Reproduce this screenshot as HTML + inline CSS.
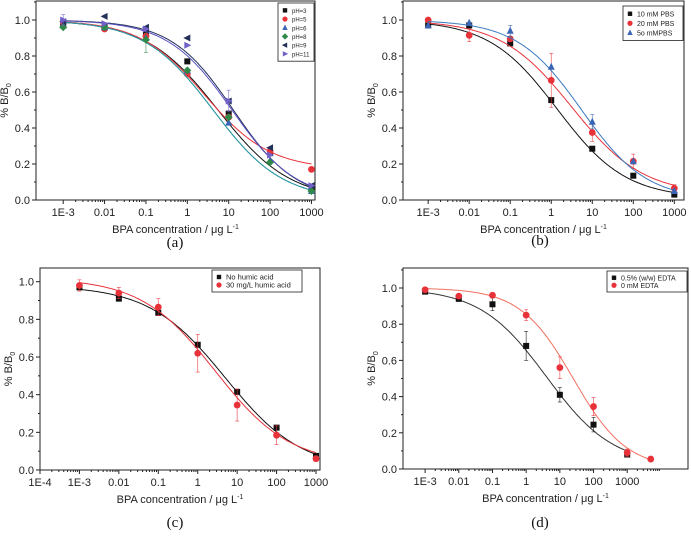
<!DOCTYPE html>
<html><head><meta charset="utf-8">
<style>
body{margin:0;background:#fff;}
svg{display:block;font-family:"Liberation Sans",Arial,sans-serif;}
</style></head>
<body>
<svg id="fig" width="691" height="538" viewBox="0 0 691 538" xmlns="http://www.w3.org/2000/svg"></svg>
<script>
// ---- data ----
const concA = [0.001, 0.01, 0.1, 1, 10, 100, 1000];
const aPH3  = [0.97, 0.96, 0.93, 0.77, 0.48, 0.26, 0.07];
const aPH5  = [0.99, 0.95, 0.91, 0.70, 0.46, 0.27, 0.17];
const aPH6  = [0.97, 0.96, 0.90, 0.72, 0.43, 0.22, 0.05];
const aPH8  = [0.96, 0.96, 0.89, 0.72, 0.46, 0.21, 0.05];
const aPH9  = [0.99, 1.02, 0.96, 0.90, 0.55, 0.29, 0.08];
const aPH11 = [1.00, 0.98, 0.95, 0.86, 0.55, 0.25, 0.08];
const aNames = ["pH=3","pH=5","pH=6","pH=8","pH=9","pH=11"];
// fit params: [top, bottom, ic50, hill]
const aFits = [[1.0,0.0,5.5,0.50],[1.0,0.17,2.6,0.55],[1.0,0.0,4.2,0.52],[1.0,0.0,4.2,0.52],[1.0,0.0,13,0.58],[1.0,0.0,12,0.56]];

const concB = [0.001, 0.01, 0.1, 1, 10, 100, 1000];
const b10 = [0.97, 0.97, 0.87, 0.555, 0.285, 0.135, 0.03];
const b20 = [1.00, 0.915, 0.895, 0.665, 0.375, 0.215, 0.065];
const b50 = [0.97, 0.985, 0.94, 0.74, 0.435, 0.215, 0.05];
const bNames = ["10 mM PBS","20 mM PBS","5o  mMPBS"];
const bFits = [[1.0,0.01,1.4,0.52],[1.0,0.03,3.2,0.5],[1.0,0.0,5.5,0.55]];

const concC = [0.001, 0.01, 0.1, 1, 10, 100, 1000];
const cNo = [0.97, 0.91, 0.835, 0.665, 0.415, 0.225, 0.075];
const cHumic = [0.98, 0.94, 0.865, 0.62, 0.345, 0.185, 0.06];
const cNames = ["No humic acid","30 mg/L humic acid"];
const cFits = [[0.98,0.0,5.0,0.45],[1.02,0.03,2.8,0.46]];

const concD = [0.001, 0.01, 0.1, 1, 10, 100, 1000, 5000];
const dEDTA = [0.98, 0.94, 0.91, 0.68, 0.41, 0.245, 0.08, null];
const dNone = [0.99, 0.955, 0.96, 0.85, 0.56, 0.345, 0.09, 0.055];
const dNames = ["0.5% (w/w) EDTA","0 mM EDTA"];
const dFits = [[1.0,0.02,4.0,0.44],[1.0,0.0,25,0.55]];

const yTicks = [0.0,0.2,0.4,0.6,0.8,1.0];
const yTickLabels = ["0.0","0.2","0.4","0.6","0.8","1.0"];

// ---- renderer ----
const NS="http://www.w3.org/2000/svg";
const svg=document.getElementById('fig');
function mk(tag,attrs,parent){const e=document.createElementNS(NS,tag);for(const k in attrs)e.setAttribute(k,attrs[k]);(parent||svg).appendChild(e);return e;}

function panel(p){
  const g=mk('g',{});
  
  
  const lx=Math.log10(p.xmin), hx=Math.log10(p.xmax);
  const X=v=>p.x0+(Math.log10(v)-lx)/(hx-lx)*(p.x1-p.x0);
  const Y=v=>p.yb+(v-0)*(p.y1v-p.yb)/1.0;
  const box=mk('rect',{x:p.L,y:p.T,width:p.R-p.L,height:p.B-p.T,fill:'none',stroke:'#222','stroke-width':1},g);
  
  
  yTicks.forEach((t,i)=>{
    const y=Y(t);
    mk('line',{x1:p.L-4,x2:p.L,y1:y,y2:y,stroke:'#222'},g);
    const tx=mk('text',{x:p.L-6,y:y+4,'text-anchor':'end','font-size':11,fill:'#222'},g);
    tx.textContent=yTickLabels[i];
    
    
    const ym=Y(t+0.1);
    if(ym>p.T) mk('line',{x1:p.L-2,x2:p.L,y1:ym,y2:ym,stroke:'#222'},g);
  });
  for(let d=Math.ceil(lx);d<=Math.floor(hx);d++){
    const v=Math.pow(10,d);const x=X(v);
    mk('line',{x1:x,x2:x,y1:p.B,y2:p.B+4,stroke:'#222'},g);
    const tx=mk('text',{x:x,y:p.B+16,'text-anchor':'middle','font-size':11,fill:'#222'},g);
    tx.textContent= d<0 ? (d===-1?'0.1':d===-2?'0.01':'1E'+d) : String(v);
    
    
    for(let m=2;m<10;m++){const xm=X(m*v);if(xm<p.R) mk('line',{x1:xm,x2:xm,y1:p.B,y2:p.B+2,stroke:'#222'},g);}
  }
  const xt=mk('text',{x:(p.L+p.R)/2,y:p.B+33,'text-anchor':'middle','font-size':11,fill:'#222'},g);
  xt.innerHTML='BPA concentration / μg L<tspan dy="-4" font-size="7">-1</tspan>';
  
  
  const ytx=p.L-28, yty=(p.T+p.B)/2;
  const yt=mk('text',{x:ytx,y:yty,'text-anchor':'middle','font-size':11,fill:'#222',transform:`rotate(-90 ${ytx} ${yty})`},g);
  yt.innerHTML='% B/B<tspan dy="3" font-size="7">0</tspan>';
  
  
  const cap=mk('text',{x:p.capX,y:p.capY,'text-anchor':'middle','font-size':15,'font-family':'Liberation Serif, serif',fill:'#111'},g);
  cap.textContent=p.caption;
  
  
  p.series.forEach((s,si)=>{
    const f=s.fit;let d='';
    const ls=Math.log10(0.001), le=Math.log10(s.xend||1000);
    for(let i=0;i<=200;i++){
      const lv=ls+(le-ls)*i/200;
      const v=Math.pow(10,lv);
      const yv=f[1]+(f[0]-f[1])/(1+Math.pow(v/f[2],f[3]));
      d+=(i?'L':'M')+X(v).toFixed(1)+','+Y(yv).toFixed(1);
    }
    const c=mk('path',{d:d,fill:'none',stroke:s.line,'stroke-width':1},g);
    
    
    s.vals.forEach((v,i)=>{
      if(v===null)return;
      const x=X(s.conc[i]),y=Y(v);
      if(s.err&&s.err[i]){
        const e=s.err[i]*(p.yb-p.y1v);
        mk('line',{x1:x,x2:x,y1:y-e,y2:y+e,stroke:s.color,'stroke-width':0.7,opacity:0.8},g);
        mk('line',{x1:x-2,x2:x+2,y1:y-e,y2:y-e,stroke:s.color,'stroke-width':0.7,opacity:0.8},g);
        mk('line',{x1:x-2,x2:x+2,y1:y+e,y2:y+e,stroke:s.color,'stroke-width':0.7,opacity:0.8},g);
      }
      const m=marker(s.shape,x,y,s.color,g,3);
      
      
    });
  });
  const lg=mk('g',{},g);
  
  
  const lh=p.series.length*p.legRow+6;
  mk('rect',{x:p.legX,y:p.legY,width:p.legW,height:lh,fill:'#fff',stroke:'#222','stroke-width':0.8},lg);
  p.series.forEach((s,si)=>{
    const yy=p.legY+3+p.legRow*si+p.legRow/2;
    marker(s.shape,p.legX+7,yy,s.color,lg,2.2);
    const t=mk('text',{x:p.legX+14,y:yy+2.5,'font-size':p.legFont,fill:'#222'},lg);
    t.textContent=s.label;
    
    
  });
}
function marker(shape,x,y,c,g,r){
  if(shape==='sq') return mk('rect',{x:x-r,y:y-r,width:2*r,height:2*r,fill:c},g);
  if(shape==='ci') return mk('circle',{cx:x,cy:y,r:r+0.4,fill:c},g);
  if(shape==='tu') return mk('polygon',{points:`${x},${y-r-1} ${x-r-0.5},${y+r} ${x+r+0.5},${y+r}`,fill:c},g);
  if(shape==='di') return mk('polygon',{points:`${x},${y-r-1} ${x+r+1},${y} ${x},${y+r+1} ${x-r-1},${y}`,fill:c},g);
  if(shape==='tl') return mk('polygon',{points:`${x-r-1},${y} ${x+r},${y-r-0.5} ${x+r},${y+r+0.5}`,fill:c},g);
  if(shape==='tr') return mk('polygon',{points:`${x+r+1},${y} ${x-r},${y-r-0.5} ${x-r},${y+r+0.5}`,fill:c},g);
}

const cols={k:'#111',r:'#e8323a',b:'#3a64b4',g:'#2f8a4a',n:'#22305a',p:'#7060c8'};
panel({name:'panel-a',caption:'(a)',capX:175,capY:247,L:36,R:315,T:1,B:200,xmin:0.00048,xmax:1090,x0:50,x1:313,yb:200,y1v:20,
  legX:278,legY:3,legW:36,legRow:8.7,legFont:6,
  series:[
   {label:aNames[0],shape:'sq',color:cols.k,line:'#111',conc:concA,vals:aPH3,fit:aFits[0]},
   {label:aNames[1],shape:'ci',color:cols.r,line:'#e8323a',conc:concA,vals:aPH5,fit:aFits[1]},
   {label:aNames[2],shape:'tu',color:cols.b,line:'#3a64b4',conc:concA,vals:aPH6,fit:aFits[2]},
   {label:aNames[3],shape:'di',color:cols.g,line:'#2aa0a0',conc:concA,vals:aPH8,fit:aFits[3],err:[0,0,0.07,0,0,0,0]},
   {label:aNames[4],shape:'tl',color:cols.n,line:'#22305a',conc:concA,vals:aPH9,fit:aFits[4]},
   {label:aNames[5],shape:'tr',color:cols.p,line:'#5a50c0',conc:concA,vals:aPH11,fit:aFits[5],err:[0.03,0,0,0,0.06,0,0]}
  ]});
const xsB=(679-416)/6;
panel({name:'panel-b',caption:'(b)',capX:540,capY:245,L:403,R:684,T:1,B:200,xmin:Math.pow(10,-3-13/xsB),xmax:Math.pow(10,3+5/xsB),x0:416,x1:679,yb:200,y1v:20,
  legX:623,legY:6,legW:60,legRow:9.5,legFont:7,
  series:[
   {label:bNames[0],shape:'sq',color:cols.k,line:'#111',conc:concB,vals:b10,fit:bFits[0]},
   {label:bNames[1],shape:'ci',color:cols.r,line:'#e8323a',conc:concB,vals:b20,fit:bFits[1],err:[0.01,0.035,0,0.15,0.05,0.04,0.02]},
   {label:bNames[2],shape:'tu',color:cols.b,line:'#3a7ac0',conc:concB,vals:b50,fit:bFits[2],err:[0,0,0.03,0,0.04,0,0]}
  ]});
panel({name:'panel-c',caption:'(c)',capX:175,capY:527,L:40,R:320,T:268,B:470,xmin:0.0001,xmax:Math.pow(10,3+2/39.7),x0:40,x1:318,yb:470,y1v:281.7,
  legX:212,legY:270,legW:90,legRow:8,legFont:7.5,
  series:[
   {label:cNames[0],shape:'sq',color:cols.k,line:'#111',conc:concC,vals:cNo,fit:cFits[0],xend:1000},
   {label:cNames[1],shape:'ci',color:cols.r,line:'#e8323a',conc:concC,vals:cHumic,fit:cFits[1],err:[0.03,0.03,0.045,0.1,0.085,0.05,0],xend:1000}
  ]});
panel({name:'panel-d',caption:'(d)',capX:540,capY:527,L:403,R:688,T:268,B:469,xmin:Math.pow(10,-3-12/40),xmax:Math.pow(10,3+33/40),x0:415,x1:655,yb:469,y1v:288,
  legX:607,legY:271,legW:80,legRow:7.5,legFont:7,
  series:[
   {label:dNames[0],shape:'sq',color:cols.k,line:'#333',conc:concD,vals:dEDTA,fit:dFits[0],err:[0,0,0.035,0.08,0.04,0.04,0],xend:1000},
   {label:dNames[1],shape:'ci',color:cols.r,line:'#f07060',conc:concD,vals:dNone,fit:dFits[1],err:[0,0,0,0.03,0.06,0.05,0.02,0],xend:5000}
  ]});
</script>
</body></html>
